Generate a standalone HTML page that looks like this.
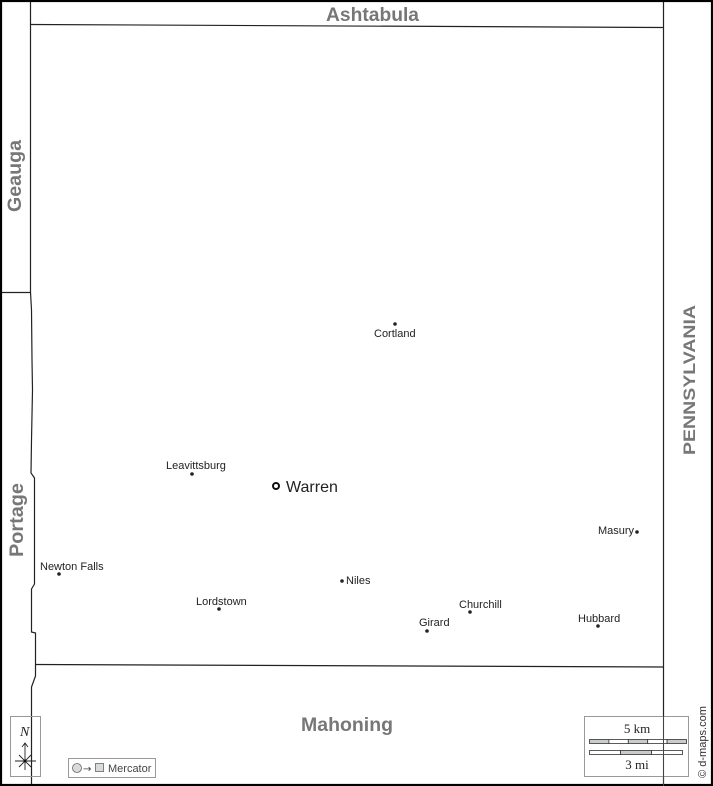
<!DOCTYPE html>
<html><head><meta charset="utf-8"><style>
html,body{margin:0;padding:0;background:#fff;}
svg{display:block;}
</style></head><body>
<svg width="713" height="786" viewBox="0 0 713 786" xmlns="http://www.w3.org/2000/svg">
<rect x="0" y="0" width="713" height="786" fill="#fff"/>
<!-- boundaries -->
<g fill="none" stroke="#222" stroke-width="1.2">
<line x1="30.5" y1="0" x2="30.5" y2="292"/>
<line x1="0" y1="292.5" x2="30.5" y2="292.5"/>
<line x1="30.5" y1="24.5" x2="663" y2="27.5"/>
<line x1="663.5" y1="0" x2="663.5" y2="786"/>
<line x1="35" y1="664.5" x2="663" y2="667"/>
<polyline points="30.5,292 31.5,310 32,360 32.5,390 31.5,440 31,473 34.5,478 34.5,584 31.5,589 31.5,632 35.5,633 35.5,676 31.5,687 31.5,786"/>
</g>
<!-- outer frame -->
<rect x="1" y="1" width="711" height="784" fill="none" stroke="#000" stroke-width="2.2"/>
<!-- neighbour labels -->
<g font-family="Liberation Sans, Arial, sans-serif" font-weight="bold" font-size="19" fill="#777">
<text x="326" y="21" textLength="93" lengthAdjust="spacingAndGlyphs">Ashtabula</text>
<text x="301" y="731" textLength="92" lengthAdjust="spacingAndGlyphs">Mahoning</text>
<text transform="translate(21,212) rotate(-90)" x="0" y="0" textLength="72" lengthAdjust="spacingAndGlyphs">Geauga</text>
<text transform="translate(23,557) rotate(-90)" x="0" y="0" textLength="74" lengthAdjust="spacingAndGlyphs">Portage</text>
<text transform="translate(695,455) rotate(-90)" x="0" y="0" font-size="17" textLength="150" lengthAdjust="spacingAndGlyphs">PENNSYLVANIA</text>
</g>
<!-- towns -->
<g fill="#222">
<circle cx="395" cy="324" r="1.8"/>
<circle cx="192" cy="474" r="1.8"/>
<circle cx="59" cy="574" r="1.8"/>
<circle cx="342" cy="581" r="1.8"/>
<circle cx="219" cy="609" r="1.8"/>
<circle cx="637" cy="532" r="1.8"/>
<circle cx="470" cy="612" r="1.8"/>
<circle cx="427" cy="631" r="1.8"/>
<circle cx="598" cy="626" r="1.8"/>
</g>
<circle cx="276" cy="486" r="3" fill="#fff" stroke="#111" stroke-width="2"/>
<g font-family="Liberation Sans, Arial, sans-serif" font-size="11" fill="#222">
<text x="374" y="337">Cortland</text>
<text x="166" y="469">Leavittsburg</text>
<text x="40" y="570">Newton Falls</text>
<text x="346" y="584">Niles</text>
<text x="196" y="605">Lordstown</text>
<text x="598" y="534">Masury</text>
<text x="459" y="608">Churchill</text>
<text x="419" y="626">Girard</text>
<text x="578" y="622">Hubbard</text>
<text x="286" y="492" font-size="16">Warren</text>
</g>
<!-- north arrow -->
<rect x="10.5" y="716.5" width="30" height="60" fill="none" stroke="#999" stroke-width="1"/>
<text x="20" y="736" font-family="Liberation Serif, serif" font-style="italic" font-size="14" fill="#222">N</text>
<g stroke="#222" stroke-width="0.9" fill="none">
<line x1="25" y1="743" x2="25" y2="770"/>
<polyline points="22,747 25,743 28,747"/>
<line x1="15" y1="761" x2="36" y2="761"/>
<line x1="19" y1="755" x2="31" y2="767"/>
<line x1="31" y1="755" x2="19" y2="767"/>
</g>
<circle cx="25" cy="761" r="1.5" fill="#111"/>
<!-- mercator box -->
<rect x="68.5" y="758.5" width="87" height="19" fill="#fff" stroke="#999" stroke-width="1"/>
<circle cx="77" cy="768" r="4.5" fill="#d6dcdc" stroke="#666" stroke-width="0.8"/>
<text x="83" y="772" font-family="DejaVu Sans, sans-serif" font-size="10" fill="#444">→</text>
<rect x="95.5" y="763.5" width="8" height="8" fill="#d6dcdc" stroke="#666" stroke-width="0.8"/>
<text x="108" y="772" font-family="Liberation Sans, Arial, sans-serif" font-size="11" fill="#444">Mercator</text>
<!-- scale box -->
<rect x="584.5" y="716.5" width="104" height="60" fill="#fff" fill-opacity="0.6" stroke="#999" stroke-width="1"/>
<text x="637" y="733" text-anchor="middle" font-family="Liberation Serif, serif" font-size="13" fill="#222">5 km</text>
<text x="637" y="769" text-anchor="middle" font-family="Liberation Serif, serif" font-size="13" fill="#222">3 mi</text>
<g stroke="#333" stroke-width="0.8">
<rect x="589.5" y="739.5" width="19.4" height="4" fill="#c8cccc"/>
<rect x="608.9" y="739.5" width="19.4" height="4" fill="#fff"/>
<rect x="628.3" y="739.5" width="19.4" height="4" fill="#c8cccc"/>
<rect x="647.7" y="739.5" width="19.4" height="4" fill="#fff"/>
<rect x="667.1" y="739.5" width="19.4" height="4" fill="#c8cccc"/>
<rect x="589.5" y="750.5" width="31" height="4" fill="#fff"/>
<rect x="620.5" y="750.5" width="31" height="4" fill="#c8cccc"/>
<rect x="651.5" y="750.5" width="31" height="4" fill="#fff"/>
</g>
<line x1="663.5" y1="716" x2="663.5" y2="786" stroke="#444" stroke-width="1"/>
<text transform="translate(706,778) rotate(-90)" x="0" y="0" font-family="Liberation Sans, Arial, sans-serif" font-size="11" fill="#333" textLength="72" lengthAdjust="spacingAndGlyphs">© d-maps.com</text>
</svg>
</body></html>
